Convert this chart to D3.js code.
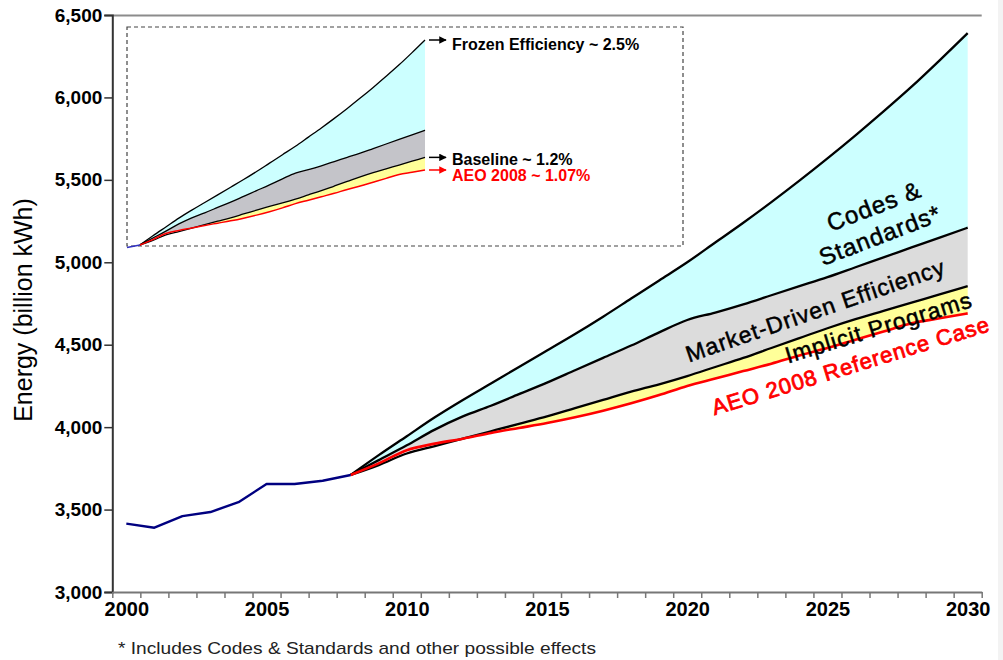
<!DOCTYPE html>
<html>
<head>
<meta charset="utf-8">
<script src="https://cdn.jsdelivr.net/npm/d3@7"></script>
<style>
  html, body { margin: 0; padding: 0; background: #ffffff; }
  svg { display: block; font-family: Arial, "Liberation Sans", Helvetica, sans-serif; }
</style>
</head>
<body>
<svg id="chart" width="1003" height="660"></svg>
<script>
// Historical electricity use (billion kWh)
const histYears = [2000, 2001, 2002, 2003, 2004, 2005, 2006, 2007, 2008];
const histValues = [3415, 3390, 3460, 3485, 3545, 3655, 3655, 3675, 3710];

// Projection years
const projYears = [2008, 2009, 2010, 2011, 2012, 2013, 2014, 2015, 2016, 2017, 2018, 2019,
                   2020, 2021, 2022, 2023, 2024, 2025, 2026, 2027, 2028, 2029, 2030];

// Frozen efficiency (~2.5%/yr)
const frozenValues = [3710, 3830, 3945, 4060, 4165, 4265, 4365, 4465, 4565, 4670, 4780, 4890,
                      5000, 5120, 5240, 5365, 5495, 5630, 5770, 5915, 6065, 6225, 6390];
// Frozen efficiency less codes & standards
const marketTopValues = [3710, 3800, 3890, 3985, 4065, 4130, 4200, 4270, 4345, 4420, 4495, 4575,
                         4650, 4695, 4745, 4800, 4855, 4910, 4970, 5030, 5090, 5150, 5210];
// Baseline (~1.2%/yr)
const baselineValues = [3710, 3770, 3840, 3885, 3930, 3975, 4020, 4065, 4115, 4165, 4215, 4260,
                        4310, 4365, 4420, 4480, 4540, 4600, 4655, 4705, 4755, 4805, 4855];
// AEO 2008 reference case (~1.07%/yr)
const aeoValues = [3710, 3780, 3860, 3900, 3930, 3965, 3995, 4025, 4060, 4100, 4145, 4195,
                   4250, 4295, 4340, 4385, 4435, 4480, 4530, 4580, 4630, 4660, 4690];

const yTicks = [3000, 3500, 4000, 4500, 5000, 5500, 6000, 6500];
const xLabelYears = [2000, 2005, 2010, 2015, 2020, 2025, 2030];

const svg = d3.select("#chart");

// thin grey strip at the right edge of the slide
svg.append("rect").attr("x", 998).attr("y", 0).attr("width", 5).attr("height", 660)
  .attr("fill", "#f3f3f3");

// ---------- main chart scales ----------
const x = d3.scaleLinear().domain([1999.5, 2030.5]).range([112.3, 981.7]);
const y = d3.scaleLinear().domain([3000, 6500]).range([592, 15]);

const proj = projYears.map((yr, i) => ({
  yr, frozen: frozenValues[i], market: marketTopValues[i],
  base: baselineValues[i], aeo: aeoValues[i]
}));
const hist = histYears.map((yr, i) => ({ yr, v: histValues[i] }));

const curve = d3.curveMonotoneX;

function drawBands(g, xs, ys, colors, widths) {
  const band = (hi, lo) => d3.area().curve(curve)
    .x(d => xs(d.yr)).y0(d => ys(lo(d))).y1(d => ys(hi(d)));
  g.append("path").datum(proj).attr("d", band(d => d.frozen, d => d.market))
    .attr("fill", colors.cyan);
  g.append("path").datum(proj).attr("d", band(d => d.market, d => Math.max(d.base, d.aeo)))
    .attr("fill", colors.gray);
  g.append("path").datum(proj).attr("d", band(d => Math.max(d.base, d.aeo), d => d.aeo))
    .attr("fill", colors.yellow);

  const line = acc => d3.line().curve(curve).x(d => xs(d.yr)).y(d => ys(acc(d)));
  [d => d.frozen, d => d.market, d => d.base].forEach(acc => {
    g.append("path").datum(proj).attr("d", line(acc))
      .attr("fill", "none").attr("stroke", "#000").attr("stroke-width", widths.black)
      .attr("stroke-linejoin", "round");
  });
  g.append("path").datum(proj).attr("d", line(d => d.aeo))
    .attr("fill", "none").attr("stroke", "#ff0000").attr("stroke-width", widths.red)
    .attr("stroke-linejoin", "round");
}

// plot frame top edge
svg.append("line").attr("x1", 112.3).attr("x2", 981.7).attr("y1", 15.5).attr("y2", 15.5)
  .attr("stroke", "#8c8c8c").attr("stroke-width", 2);

const main = svg.append("g");
drawBands(main, x, y, { cyan: "#ccffff", gray: "#dcdcdc", yellow: "#ffff99" },
          { black: 2.3, red: 2.6 });

// historical line
main.append("path").datum(hist)
  .attr("d", d3.line().x(d => x(d.yr)).y(d => y(d.v)))
  .attr("fill", "none").attr("stroke", "#000080").attr("stroke-width", 2.4)
  .attr("stroke-linejoin", "round");

// ---------- axes ----------
const yAxis = svg.append("g").attr("transform", "translate(112.3,0)")
  .call(d3.axisLeft(y).tickValues(yTicks).tickFormat(d3.format(",")).tickSize(8).tickPadding(2));
yAxis.select(".domain").attr("stroke", "#333").attr("stroke-width", 2);
yAxis.selectAll(".tick line").attr("stroke", "#333").attr("stroke-width", 1.5);
yAxis.selectAll(".tick text").attr("font-size", 19).attr("font-weight", "bold")
  .attr("fill", "#000").attr("font-family", "Arial, 'Liberation Sans', sans-serif");

const boundaries = d3.range(1999.5, 2031, 1);
const xTickAxis = svg.append("g").attr("transform", "translate(0,592)")
  .call(d3.axisBottom(x).tickValues(boundaries).tickFormat("").tickSize(6).tickSizeOuter(0));
xTickAxis.select(".domain").attr("stroke", "#777").attr("stroke-width", 2);
xTickAxis.selectAll(".tick line").attr("stroke", "#777").attr("stroke-width", 1.5);

const xLabelAxis = svg.append("g").attr("transform", "translate(0,592)")
  .call(d3.axisBottom(x).tickValues(xLabelYears).tickFormat(d3.format("d")).tickSize(0).tickPadding(10));
xLabelAxis.select(".domain").remove();
xLabelAxis.selectAll(".tick text").attr("font-size", 20).attr("font-weight", "bold")
  .attr("fill", "#000").attr("font-family", "Arial, 'Liberation Sans', sans-serif");

// y-axis title
svg.append("text")
  .attr("transform", "translate(32,310) rotate(-90)")
  .attr("text-anchor", "middle").attr("font-size", 25).attr("fill", "#000")
  .text("Energy (billion kWh)");

// footnote
svg.append("text").attr("x", 118).attr("y", 654).attr("font-size", 17).attr("fill", "#222")
  .attr("textLength", 478).attr("lengthAdjust", "spacingAndGlyphs")
  .text("* Includes Codes & Standards and other possible effects");

// ---------- band labels ----------
function tiltedLabel(txt, cx, cy, angle, color, size, sw) {
  svg.append("text")
    .attr("transform", `translate(${cx},${cy}) rotate(${angle})`)
    .attr("text-anchor", "middle").attr("font-size", size)
    .attr("letter-spacing", 1)
    .attr("stroke", color).attr("stroke-width", sw)
    .attr("fill", color).text(txt);
}
tiltedLabel("Codes &", 877, 214, -21, "#000", 24, 0.5);
tiltedLabel("Standards*", 883, 243, -21, "#000", 24, 0.5);
tiltedLabel("Market-Driven Efficiency", 818, 318, -19, "#000", 23, 0.5);
tiltedLabel("Implicit Programs", 881, 335, -17, "#000", 23, 0.5);
tiltedLabel("AEO 2008 Reference Case", 853, 373, -17, "#ff0000", 22, 0.8);

// ---------- inset ----------
const ix = d3.scaleLinear().domain([2007, 2030]).range([127, 425]);
const iy = d3.scaleLinear().domain([3696, 6560]).range([246, 27]);

svg.append("rect").attr("x", 127).attr("y", 27).attr("width", 556).attr("height", 219)
  .attr("fill", "#fff").attr("stroke", "#444").attr("stroke-width", 1.2)
  .attr("stroke-dasharray", "4,3");

const inset = svg.append("g");
drawBands(inset, ix, iy, { cyan: "#ccffff", gray: "#c4c4c9", yellow: "#ffff99" },
          { black: 1.3, red: 1.5 });
inset.append("path").datum(hist.filter(d => d.yr >= 2007))
  .attr("d", d3.line().x(d => ix(d.yr)).y(d => iy(d.v)))
  .attr("fill", "none").attr("stroke", "#3030c0").attr("stroke-width", 1.5);

// arrow markers
const defs = svg.append("defs");
[["arrBlack", "#000"], ["arrRed", "#ff0000"]].forEach(([id, c]) => {
  defs.append("marker").attr("id", id).attr("viewBox", "0 0 10 10")
    .attr("refX", 9).attr("refY", 5).attr("markerWidth", 5).attr("markerHeight", 5)
    .attr("orient", "auto")
    .append("path").attr("d", "M0,0 L10,5 L0,10 z").attr("fill", c);
});

const last = proj[proj.length - 1];
const insetLabels = [
  { v: last.frozen, text: "Frozen Efficiency ~ 2.5%", color: "#000", marker: "arrBlack", dy: 4 },
  { v: last.base, text: "Baseline ~ 1.2%", color: "#000", marker: "arrBlack", dy: 2 },
  { v: last.aeo, text: "AEO 2008 ~ 1.07%", color: "#ff0000", marker: "arrRed", dy: 5 }
];
insetLabels.forEach(l => {
  const yy = iy(l.v);
  svg.append("line").attr("x1", 429).attr("x2", 446).attr("y1", yy).attr("y2", yy)
    .attr("stroke", l.color).attr("stroke-width", 1.5).attr("marker-end", `url(#${l.marker})`);
  svg.append("text").attr("x", 452).attr("y", yy + l.dy).attr("dy", "0.35em")
    .attr("font-size", 16).attr("font-weight", "bold").attr("fill", l.color).text(l.text);
});
</script>
</body>
</html>
